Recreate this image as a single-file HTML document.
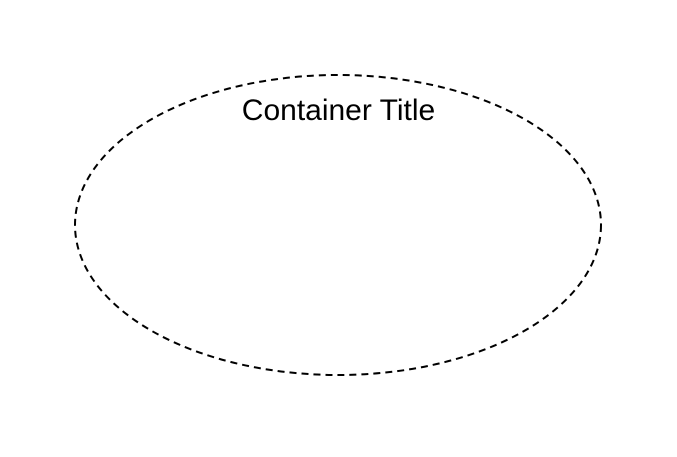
<!DOCTYPE html>
<html><head><meta charset="utf-8"><style>html,body{margin:0;padding:0;background:#fff;}</style></head>
<body>
<svg width="677" height="452" xmlns="http://www.w3.org/2000/svg">
<ellipse cx="338" cy="225" rx="263" ry="150" fill="none" stroke="#000" stroke-width="2" stroke-dasharray="7,5"/>
<text x="338.5" y="120" text-anchor="middle" font-family="Liberation Sans, sans-serif" font-size="30" fill="#000">Container Title</text>
</svg>
</body></html>
